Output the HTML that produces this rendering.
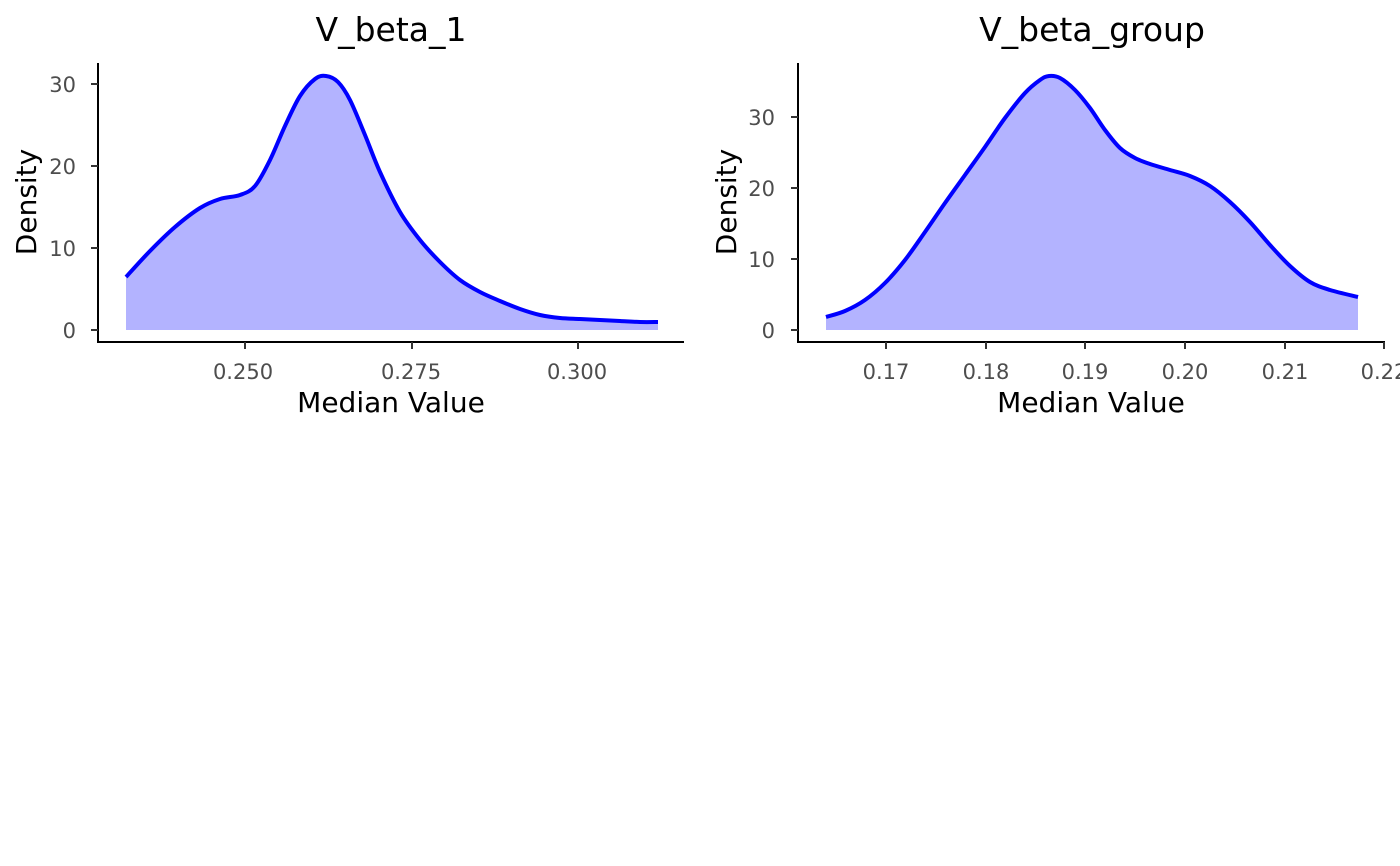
<!DOCTYPE html>
<html><head><meta charset="utf-8"><style>
html,body{margin:0;padding:0;background:#fff;}
svg{display:block;}
text{font-family:"DejaVu Sans","Liberation Sans",sans-serif;}
.t{font-size:21px;fill:#4d4d4d;}
.lab{font-size:28px;fill:#000;}
.ti{font-size:33px;fill:#000;}
</style></head><body>
<svg width="1400" height="866" viewBox="0 0 1400 866">
<path id="lf" fill="#b3b3ff"/>
<path id="ll" fill="none" stroke="#0000ff" stroke-width="4" stroke-linejoin="round" stroke-linecap="butt"/>
<line x1="98" y1="63" x2="98" y2="343" stroke="#000" stroke-width="2"/>
<line x1="97" y1="342" x2="684" y2="342" stroke="#000" stroke-width="2"/>
<g stroke="#333" stroke-width="2">
<line x1="91" y1="84" x2="98" y2="84"/><line x1="91" y1="166" x2="98" y2="166"/><line x1="91" y1="248" x2="98" y2="248"/><line x1="91" y1="330" x2="98" y2="330"/>
<line x1="245" y1="342" x2="245" y2="349"/><line x1="412" y1="342" x2="412" y2="349"/><line x1="578" y1="342" x2="578" y2="349"/>
</g>
<g class="t" text-anchor="end">
<text x="76" y="92">30</text><text x="76" y="174">20</text><text x="76" y="256">10</text><text x="76" y="338">0</text>
</g>
<g class="t" text-anchor="middle">
<text x="243" y="379">0.250</text><text x="411" y="379">0.275</text><text x="577" y="379">0.300</text>
</g>
<text class="lab" x="391" y="412" text-anchor="middle">Median Value</text>
<text class="lab" transform="translate(36,202) rotate(-90)" text-anchor="middle">Density</text>
<text class="ti" x="391" y="41" text-anchor="middle">V_beta_1</text>

<path id="rf" fill="#b3b3ff"/>
<path id="rl" fill="none" stroke="#0000ff" stroke-width="4" stroke-linejoin="round"/>
<line x1="798" y1="63" x2="798" y2="343" stroke="#000" stroke-width="2"/>
<line x1="797" y1="342" x2="1385" y2="342" stroke="#000" stroke-width="2"/>
<g stroke="#333" stroke-width="2">
<line x1="791" y1="117" x2="798" y2="117"/><line x1="791" y1="188" x2="798" y2="188"/><line x1="791" y1="259" x2="798" y2="259"/><line x1="791" y1="330" x2="798" y2="330"/>
<line x1="886" y1="342" x2="886" y2="349"/><line x1="986" y1="342" x2="986" y2="349"/><line x1="1085" y1="342" x2="1085" y2="349"/><line x1="1185" y1="342" x2="1185" y2="349"/><line x1="1285" y1="342" x2="1285" y2="349"/><line x1="1384" y1="342" x2="1384" y2="349"/>
</g>
<g class="t" text-anchor="end">
<text x="775" y="125">30</text><text x="775" y="196">20</text><text x="775" y="267">10</text><text x="775" y="338">0</text>
</g>
<g class="t" text-anchor="middle">
<text x="886" y="379">0.17</text><text x="986" y="379">0.18</text><text x="1085" y="379">0.19</text><text x="1185" y="379">0.20</text><text x="1285" y="379">0.21</text><text x="1384" y="379">0.22</text>
</g>
<text class="lab" x="1091" y="412" text-anchor="middle">Median Value</text>
<text class="lab" transform="translate(736,202) rotate(-90)" text-anchor="middle">Density</text>
<text class="ti" x="1092" y="41" text-anchor="middle">V_beta_group</text>
</svg>
<script>
function cr(p){var d="M"+p[0][0]+","+p[0][1];for(var i=0;i<p.length-1;i++){var p0=p[i-1]||p[i],p1=p[i],p2=p[i+1],p3=p[i+2]||p2;d+=" C"+(p1[0]+(p2[0]-p0[0])/6)+","+(p1[1]+(p2[1]-p0[1])/6)+" "+(p2[0]-(p3[0]-p1[0])/6)+","+(p2[1]-(p3[1]-p1[1])/6)+" "+p2[0]+","+p2[1];}return d;}
var L=[[126,277],[150,251],[175,227],[200,208],[220,199],[240,195],[255,186],[270,160],[285,126],[300,96],[315,79],[326,76],[338,82],[350,100],[365,135],[380,172],[400,212],[420,240],[440,262],[460,280],[480,292],[500,301],[520,309],[540,315],[560,318],[580,319],[600,320],[620,321],[640,322],[658,322]];
var R=[[826,317],[845,311],[865,300],[885,283],[905,260],[925,232],[945,203],[965,175],[985,147],[1005,118],[1025,93],[1040,80],[1049,76],[1060,78],[1075,90],[1090,108],[1105,130],[1120,148],[1135,158],[1150,164],[1170,170],[1190,176],[1210,186],[1230,202],[1250,222],[1270,245],[1290,266],[1310,282],[1330,290],[1358,297]];
var a=cr(L),b=cr(R);
document.getElementById("ll").setAttribute("d",a);
document.getElementById("lf").setAttribute("d",a+" L658,330 L126,330 Z");
document.getElementById("rl").setAttribute("d",b);
document.getElementById("rf").setAttribute("d",b+" L1358,330 L826,330 Z");
</script>
</body></html>
